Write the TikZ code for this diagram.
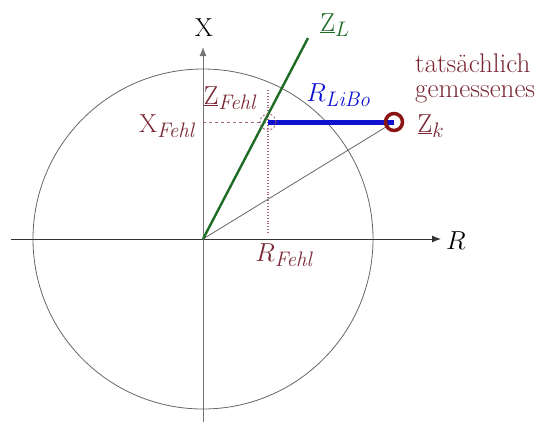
\RequirePackage{fix-cm}
\documentclass[tikz,border=0pt]{standalone}
\usetikzlibrary{arrows.meta}
\DeclareMathSizes{26}{26}{21}{17}
\definecolor{dred}{HTML}{7A2834}
\definecolor{ringred}{HTML}{8A1414}
\definecolor{lblue}{HTML}{1010D0}
\definecolor{dgreen}{HTML}{1E6B24}
\begin{document}
\begin{tikzpicture}[x=1pt,y=-1pt,
  lab/.style={inner sep=0pt,font=\fontsize{26}{30}\selectfont},
  axis/.style={line width=1pt,-{Latex[length=9pt,width=7pt]}},
  help/.style={draw=dred!70,line width=0.9pt}]
\useasboundingbox (0,0) rectangle (553,432);
% points
\coordinate (O) at (203,239);
\coordinate (ZLend) at (308,38);
\coordinate (ZF) at (268,122);
\coordinate (XF) at (203,122);
\coordinate (RFtop) at (268,90);
\coordinate (RFbot) at (268,233);
\coordinate (Zk) at (394,122);
\coordinate (xl) at (11,239);
\coordinate (xr) at (441,239);
\coordinate (yb) at (203,422);
\coordinate (yt) at (203,47);
% circle
\draw[gray!80!black,line width=0.8pt] (O) circle (170);
% axes
\draw[axis,draw=black!80] (xl) -- (xr);
\draw[axis,draw=black!55] (yb) -- (yt);
% helper lines
\draw[help,dashed,dash pattern=on 3pt off 3pt] (XF) -- (ZF);
\draw[help,dotted,line width=1.2pt] (RFtop) -- (RFbot);
% lines
\draw[black!60,line width=0.8pt] (O) -- (Zk);
\draw[dgreen,line width=2.4pt] (O) -- (ZLend);
\draw[lblue,line width=5pt] (ZF) -- (Zk);
\node[draw=dred!80,dashed,dash pattern=on 2pt off 2pt,circle,minimum size=16pt,inner sep=0pt,line width=0.8pt] (zfc) at (ZF) {};
\node[draw=ringred,circle,minimum size=17pt,inner sep=0pt,line width=3.5pt] (zkc) at (Zk) {};
% labels
\node[lab] (Xl) at (204,28) {$\mathrm{X}$};
\node[lab] (Rl) at (456,241) {$R$};
\node[lab,text=dgreen] (ZLl) at (335,25) {$\underline{\mathrm{Z}}_{L}$};
\node[lab,text=dred] (ZFl) at (231,98) {$\underline{\mathrm{Z}}_{\mathit{Fehl}}$};
\node[lab,text=dred] (XFl) at (168,126) {$\mathrm{X}_{\mathit{Fehl}}$};
\node[lab,text=lblue] (RLl) at (339,95) {$R_{\mathit{LiBo}}$};
\node[lab,text=dred] (RFl) at (285,255) {$R_{\mathit{Fehl}}$};
\node[lab,text=dred] (Zkl) at (431,126) {$\underline{\mathrm{Z}}_{k}$};
\node[text=dred,anchor=base west,align=left,inner sep=0pt,font=\fontsize{27}{25}\selectfont] (tg) at (415,97) {tatsächlich\\gemessenes};
\end{tikzpicture}
\end{document}
